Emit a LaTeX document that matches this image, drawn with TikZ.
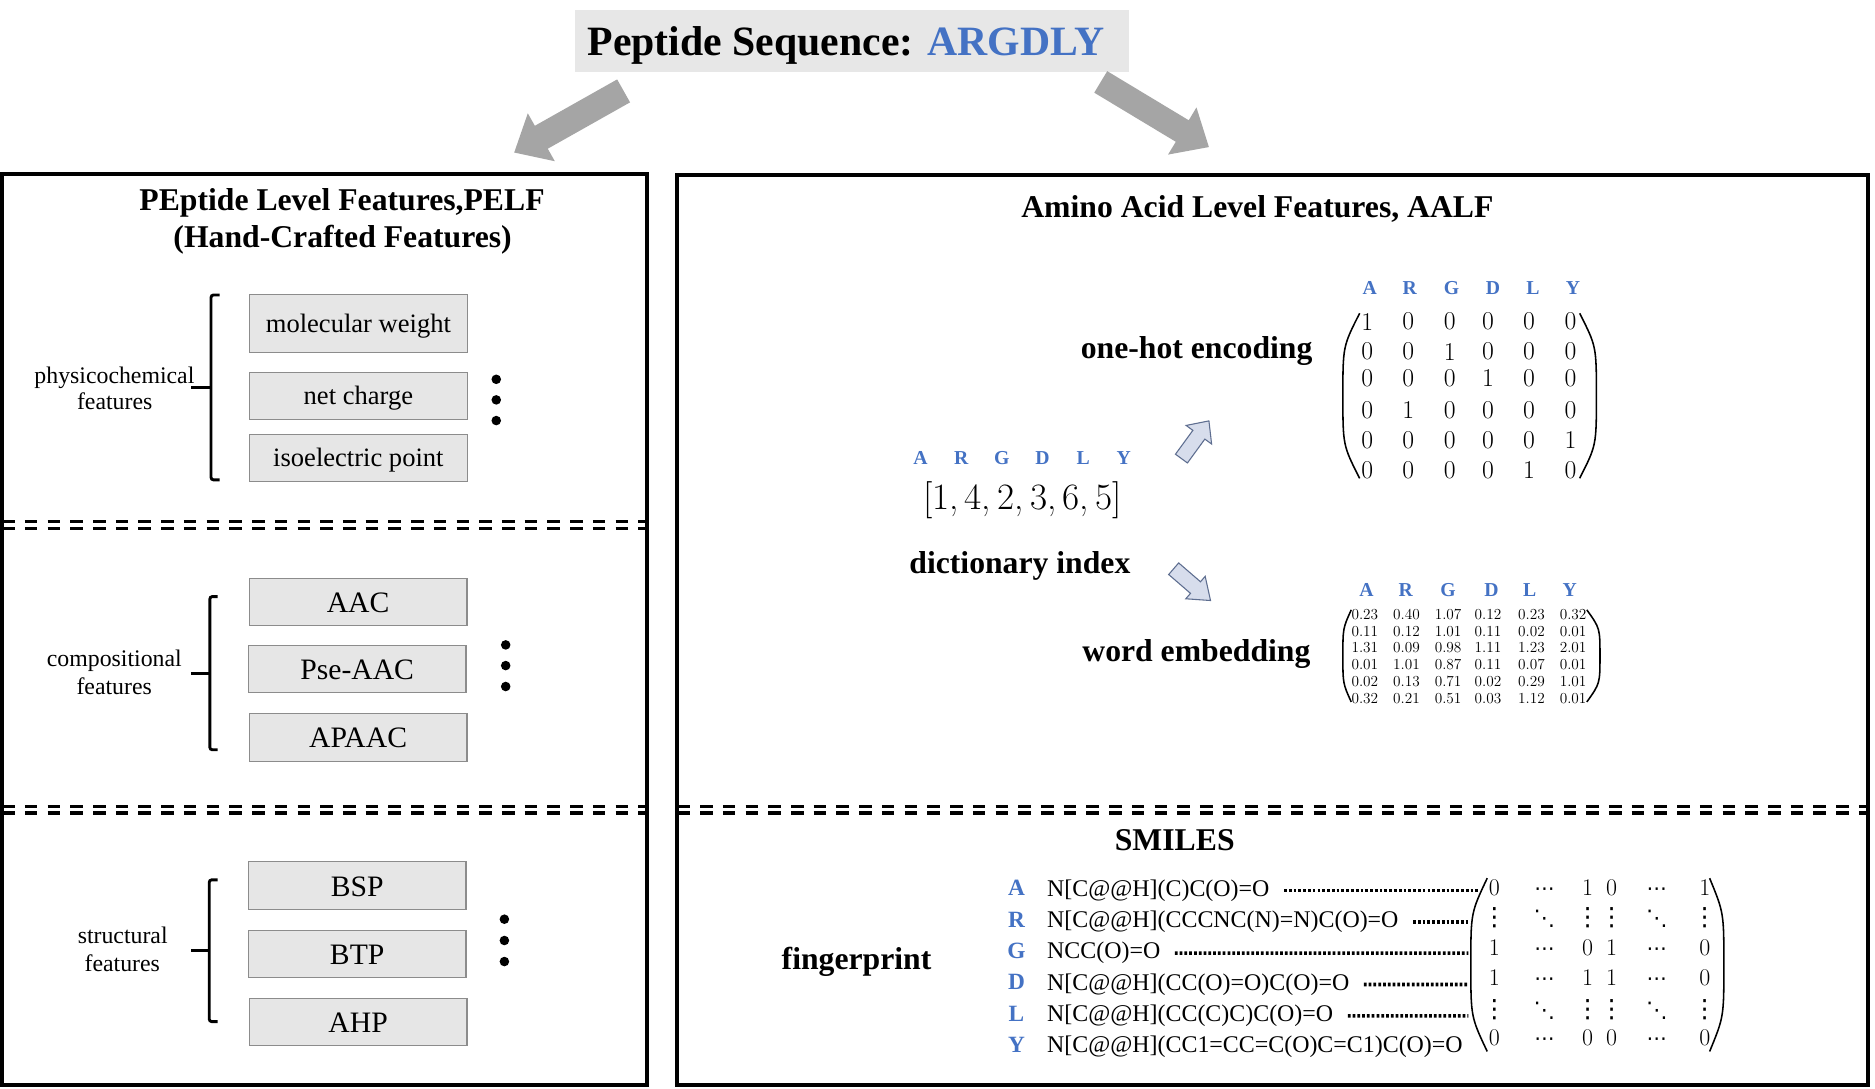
\documentclass[tikz,border=0pt]{standalone}
\usepackage{fontspec}
\newfontfamily\tnr{Liberation Serif}
\newfontfamily\djv{DejaVu Sans}
\usetikzlibrary{calc}
\definecolor{seqblue}{HTML}{4472C4}
\definecolor{featfill}{HTML}{E6E6E6}
\definecolor{featborder}{HTML}{8C8C8C}
\definecolor{titlefill}{HTML}{E7E7E7}
\definecolor{arrowgray}{HTML}{A5A5A5}
\definecolor{smallfill}{HTML}{D7DDEC}
\definecolor{smallborder}{HTML}{5E6E90}
\newcommand\fpH{{\djv\fontsize{17}{17}\selectfont ⋯}}
\newcommand\fpV{{\djv\fontsize{21}{21}\selectfont ⋮}}
\newcommand\fpD{{\djv\fontsize{18}{18}\selectfont ⋱}}
% block arrow: tail-mid x, y, angle, length, half shaft, half head, head length, style
\newcommand{\barrow}[8]{%
  \begin{scope}[shift={(#1,#2)},rotate=#3]
    \filldraw[#8] (0,-#5) -- ({#4-#7},-#5) -- ({#4-#7},-#6) -- (#4,0) -- ({#4-#7},#6) -- ({#4-#7},#5) -- (0,#5) -- cycle;
  \end{scope}}
% parenthesis: bulge x, tip x, top y, bottom y
\newcommand{\mparen}[4]{%
  \draw[parl] (#2,#3) .. controls (#1,{#3+0.2*(#4-#3)}) .. (#1,{(#3+#4)/2})
              .. controls (#1,{#4-0.2*(#4-#3)}) .. (#2,#4);}
\tikzset{
  panel/.style={draw=black, line width=3.3pt},
  dbl/.style={line width=2.8pt, dash pattern=on 10.5pt off 8.5pt},
  btitle/.style={font=\tnr\bfseries\fontsize{26.5}{30}\selectfont, inner sep=0pt, anchor=base},
  glabel/.style={font=\tnr\fontsize{19.9}{22}\selectfont, inner sep=0pt, anchor=base},
  featA/.style={draw=featborder, fill=featfill, line width=0.9pt, minimum width=182pt, inner sep=0pt,
                font=\tnr\fontsize{22.2}{24}\selectfont, text height=16.9pt, text depth=2.2pt},
  featB/.style={featA, font=\tnr\fontsize{24.8}{27}\selectfont, text height=19.3pt, text depth=1.5pt},
  brk/.style={line width=2.4pt, rounded corners=2pt},
  bigarrow/.style={fill=arrowgray, draw=none},
  smallarrow/.style={fill=smallfill, draw=smallborder, line width=0.9pt},
  hdr/.style={font=\tnr\bfseries\fontsize{16.5}{18}\selectfont, text=seqblue, inner sep=0pt, anchor=base},
  ohcell/.style={font=\fontsize{21.5}{22}\selectfont, inner sep=0pt},
  embcell/.style={font=\fontsize{12.8}{14}\selectfont, inner sep=0pt},
  fpcell/.style={font=\fontsize{20}{22}\selectfont, inner sep=0pt, anchor=base},
  aalet/.style={font=\tnr\bfseries\fontsize{19.5}{21}\selectfont, text=seqblue, inner sep=0pt, anchor=base},
  smiles/.style={font=\tnr\fontsize{20}{22}\selectfont, inner sep=0pt, anchor=west, text height=15.2pt, text depth=2pt},
  dotline/.style={line width=3pt, dash pattern=on 2.3pt off 1.7pt},
  parl/.style={line width=1.3pt},
}
\begin{document}
\begin{tikzpicture}[x=1pt,y=-1pt]
\useasboundingbox (0,0) rectangle (1568,910);
\fill[white] (0,0) rectangle (1568,910);

% ---- title ----
\node[fill=titlefill, minimum width=463pt, minimum height=51.6pt, inner sep=0pt] (seqbox) at (712.5,34.2) {};
\node[anchor=base, font=\tnr\bfseries\fontsize{34.9}{40}\selectfont, inner sep=0pt] (seq) at (707.5,46)
  {Peptide Sequence: \textcolor{seqblue}{ARGDLY}};

% ---- big arrows ----
\barrow{521.5}{76}{209.4}{105}{11}{23}{26}{bigarrow}
\barrow{920.5}{68.5}{-31.06}{105.6}{10.5}{23}{26}{bigarrow}

% ---- panels ----
\draw[panel] (1.8,145.8) rectangle (541,907);
\draw[panel] (566.5,146.6) rectangle (1562.4,907);

% dashed separators
\draw[dbl] (1.8,436.2) -- (541,436.2);
\draw[dbl] (1.8,441.8) -- (541,441.8);
\draw[dbl] (1.8,674.5) -- (541,674.5);
\draw[dbl] (1.8,680) -- (541,680);
\draw[dbl] (566.5,674.5) -- (1562.4,674.5);
\draw[dbl] (566.5,680) -- (1562.4,680);

% ---- left panel ----
\node[btitle] (lt1) at (286,176.1) {PEptide Level Features,PELF};
\node[btitle] (lt2) at (286.5,206.8) {(Hand-Crafted Features)};

% group 1
\node[featA, minimum height=48.5pt] (mw) at (299.7,270.4) {molecular weight};
\node[featA, minimum height=39.3pt] (nc) at (299.7,331) {net charge};
\node[featA, minimum height=39.2pt] (ip) at (299.7,382.8) {isoelectric point};
\draw[brk] (183.7,246.7) -- (176.5,246.7) -- (176.5,401.3) -- (183.7,401.3);
\draw[brk] (160.1,323.9) -- (176.5,323.9);
\node[glabel] (pc1) at (95.7,320.5) {physicochemical};
\node[glabel] (pc2) at (95.9,342.8) {features};
\foreach \yy in {317.2,334.4,351.7} \fill (415,\yy) circle[radius=4];

% group 2
\node[featB, minimum height=39.5pt] (aac) at (299.5,503.4) {AAC};
\node[featB, minimum height=39.6pt] (pse) at (298.7,559.4) {Pse-AAC};
\node[featB, minimum height=40.2pt] (apaac) at (299.5,616.5) {APAAC};
\draw[brk] (182,498.9) -- (175.5,498.9) -- (175.5,627) -- (182,627);
\draw[brk] (159.7,563) -- (175.5,563);
\node[glabel] (cp1) at (95.6,557.4) {compositional};
\node[glabel] (cp2) at (95.5,581.1) {features};
\foreach \yy in {539.3,556.6,574.1} \fill (422.9,\yy) circle[radius=4];

% group 3
\node[featB, minimum height=39.8pt] (bsp) at (298.7,740.4) {BSP};
\node[featB, minimum height=39pt] (btp) at (298.7,797.7) {BTP};
\node[featB, minimum height=39pt] (ahp) at (299.5,854.5) {AHP};
\draw[brk] (182,735.8) -- (175,735.8) -- (175,854.3) -- (182,854.3);
\draw[brk] (160,794.9) -- (175,794.9);
\node[glabel] (st1) at (102.6,788.7) {structural};
\node[glabel] (st2) at (102.3,812.4) {features};
\foreach \yy in {768.7,786.5,804.1} \fill (421.8,\yy) circle[radius=4];

% ---- right panel ----
\node[btitle] (rt) at (1051.5,182) {Amino Acid Level Features, AALF};
\node[btitle] (oh) at (1000.7,300) {one-hot encoding};
\node[btitle] (di) at (852.9,479.4) {dictionary index};
\node[btitle] (we) at (1000.5,553.2) {word embedding};
\node[btitle] (sm) at (982.4,711.3) {SMILES};
\node[btitle] (fp) at (716.3,811) {fingerprint};

% dictionary index
\foreach \l [count=\i] in {A,R,G,D,L,Y}
  \node[hdr] (ixh-\l) at ({769.8+34*(\i-1)},388.8) {\l};
\node[font=\fontsize{31.1}{34}\selectfont, inner sep=0pt, anchor=base] (idx) at (854.9,426.4) {[1,\,4,\,2,\,3,\,6,\,5]};

% small arrows
\barrow{988}{383.5}{53.9}{39}{6.2}{13.2}{14.3}{smallarrow}
\barrow{981.5}{475.6}{-40.8}{40.7}{6.4}{12.4}{16.6}{smallarrow}

% one-hot matrix
\foreach \l/\x in {A/1145.5,R/1178.9,G/1213.8,D/1248.6,L/1282,Y/1315.5}
  \node[hdr] (ohh-\l) at (\x,246.5) {\l};
\foreach \row [count=\i] in {{1,0,0,0,0,0},{0,0,1,0,0,0},{0,0,0,1,0,0},{0,1,0,0,0,0},{0,0,0,0,0,1},{0,0,0,0,1,0}}{
  \pgfmathsetmacro{\yy}{{269,294,316.5,343,368,393}[\i-1]}
  \foreach \v [count=\j] in \row {
    \pgfmathsetmacro{\xx}{{1143.3,1177.6,1212.4,1244.4,1278.7,1313.3}[\j-1]}
    \node[ohcell] (oh-\i-\j) at (\xx,\yy) {\v};
  }
}
\mparen{1123}{1137}{262}{400}
\mparen{1335}{1321}{262}{400}

% word embedding matrix
\foreach \l/\x in {A/1142.7,R/1175.6,G/1211,D/1247.2,L/1279.3,Y/1312.7}
  \node[hdr] (emh-\l) at (\x,499) {\l};
\foreach \row [count=\i] in {{0.23,0.40,1.07,0.12,0.23,0.32},{0.11,0.12,1.01,0.11,0.02,0.01},{1.31,0.09,0.98,1.11,1.23,2.01},{0.01,1.01,0.87,0.11,0.07,0.01},{0.02,0.13,0.71,0.02,0.29,1.01},{0.32,0.21,0.51,0.03,1.12,0.01}}{
  \pgfmathsetmacro{\yy}{{514.2,528.2,541.5,556,570,583.9}[\i-1]}
  \foreach \v [count=\j] in \row {
    \pgfmathsetmacro{\xx}{{1141.4,1176.2,1211,1244.4,1280.7,1315.5}[\j-1]}
    \node[embcell] (em-\i-\j) at (\xx,\yy) {\v};
  }
}
\mparen{1123}{1130}{510}{587}
\mparen{1338}{1327}{510}{587}

% SMILES / fingerprint
\foreach \l/\s [count=\i] in {A/{N[C@@H](C)C(O)=O},R/{N[C@@H](CCCNC(N)=N)C(O)=O},G/{NCC(O)=O},D/{N[C@@H](CC(O)=O)C(O)=O},L/{N[C@@H](CC(C)C)C(O)=O},Y/{N[C@@H](CC1=CC=C(O)C=C1)C(O)=O}}{
  \node[aalet] (L\i) at (850,{742.7+26.2*(\i-1)+6.4}) {\l};
  \node[smiles] (S\i) at (875.5,{742.7+26.2*(\i-1)}) {\s};
}
\coordinate (P1) at (1236,742.7);
\coordinate (P2) at (1228,768.9);
\coordinate (P3) at (1228,795.1);
\coordinate (P4) at (1228,821.3);
\coordinate (P5) at (1228,847.5);
\foreach \i in {1,...,5}
  \draw[dotline] ([xshift=12pt,yshift=-2pt]S\i.east) -- ([yshift=-2pt]P\i);

\foreach \row [count=\i] in {{0,\fpH,1,0,\fpH,1},{\fpV,\fpD,\fpV,\fpV,\fpD,\fpV},{1,\fpH,0,1,\fpH,0},{1,\fpH,1,1,\fpH,0},{\fpV,\fpD,\fpV,\fpV,\fpD,\fpV},{0,\fpH,0,0,\fpH,0}}{
  \pgfmathsetmacro{\yy}{{742.7,767.8,792.9,818,844.5,868.2}[\i-1]+6.4}
  \foreach \v [count=\j] in \row {
    \pgfmathsetmacro{\xx}{{1249.7,1291.6,1327.7,1347.7,1385.6,1425.6}[\j-1]}
    \node[fpcell] (fp-\i-\j) at (\xx,\yy) {\v};
  }
}
\mparen{1230}{1243.7}{734.4}{879.3}
\mparen{1441.6}{1429.7}{734.4}{879.3}
\end{tikzpicture}
\end{document}
